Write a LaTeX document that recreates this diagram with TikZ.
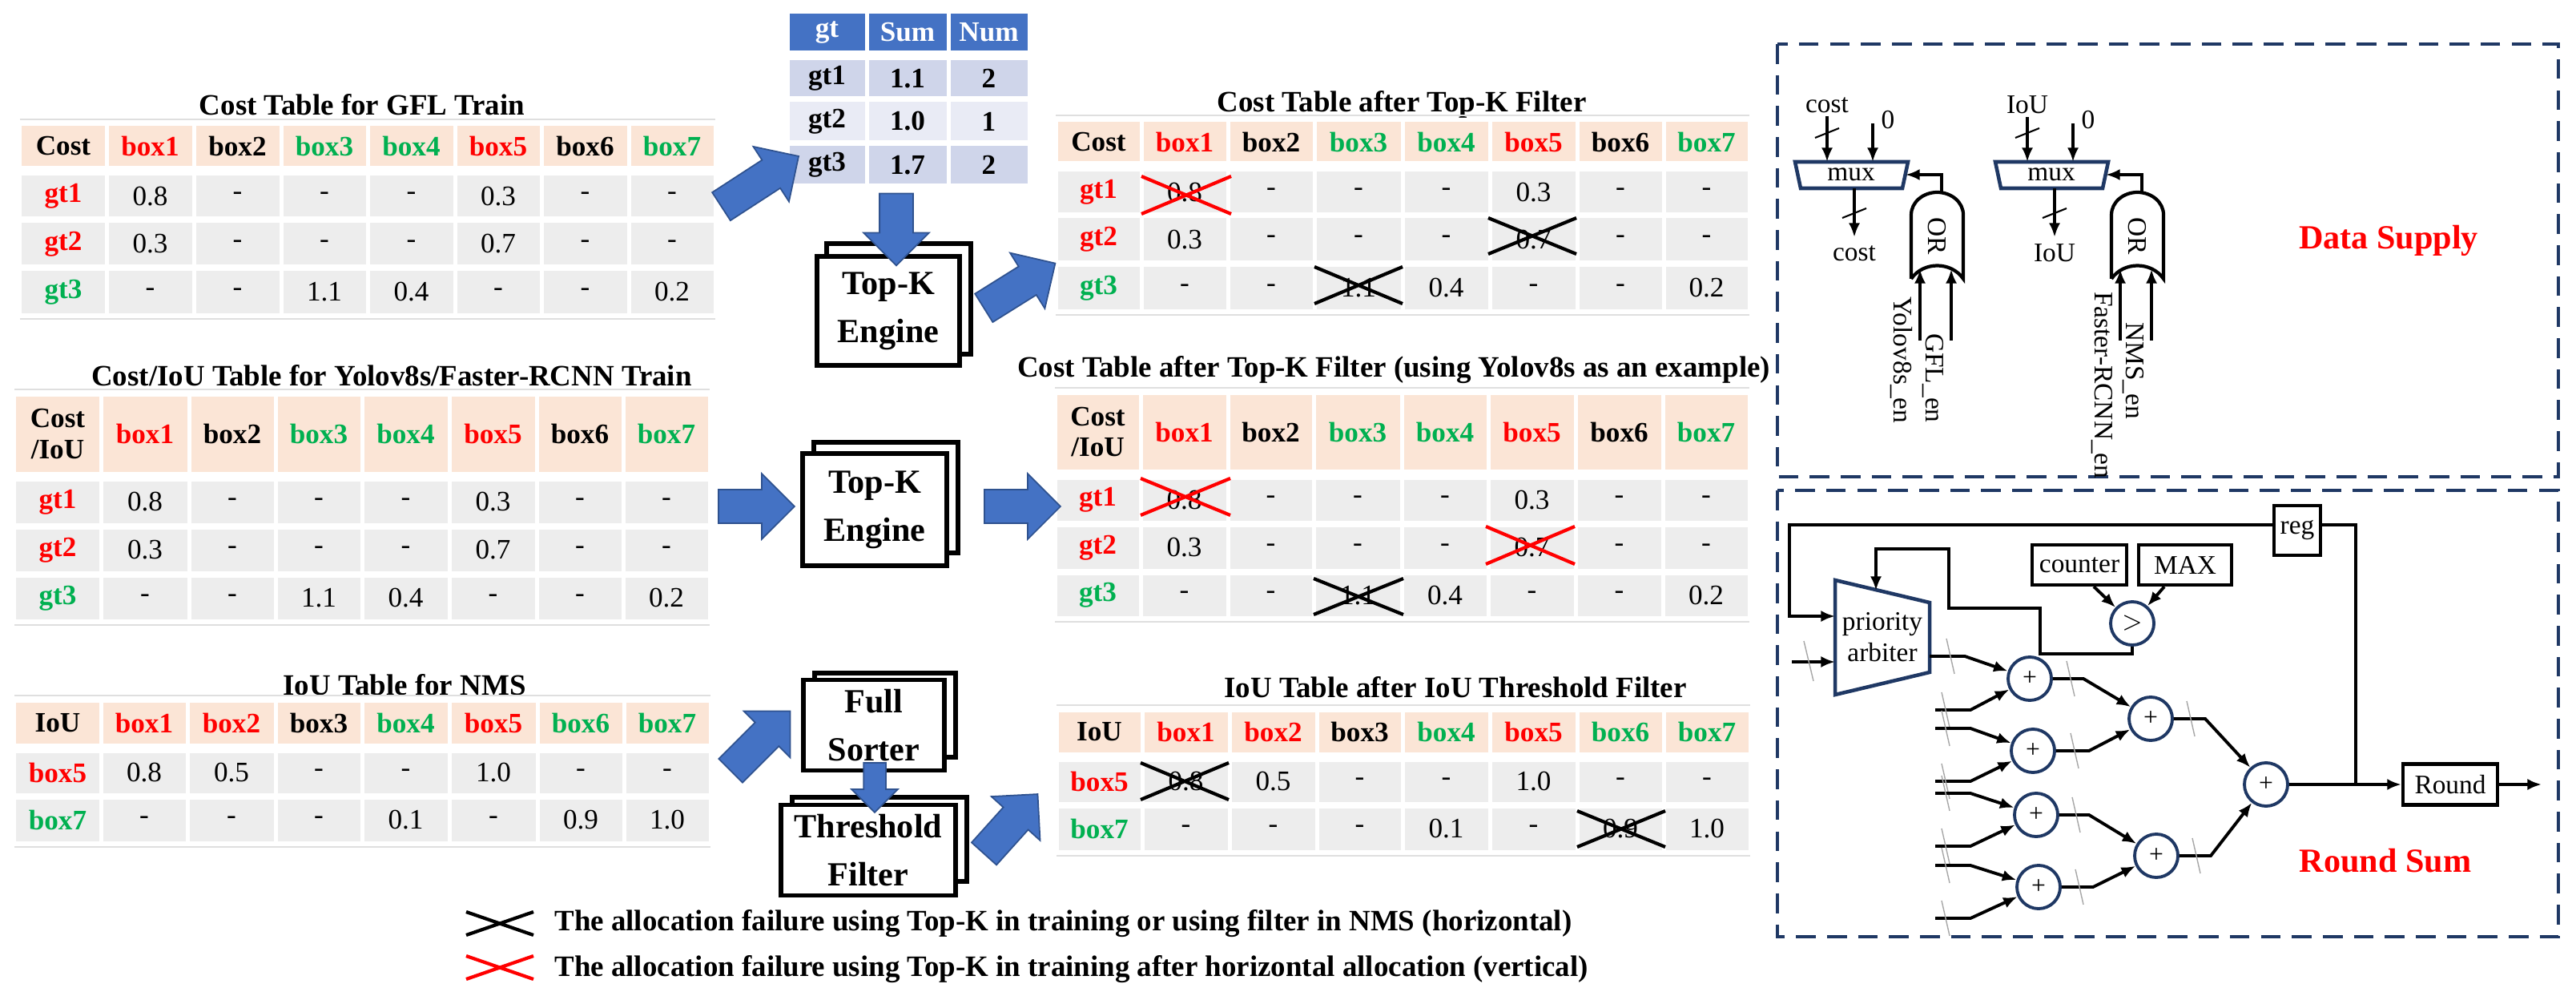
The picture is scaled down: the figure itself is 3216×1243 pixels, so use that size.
\documentclass[tikz,border=0pt]{standalone}
\usepackage{fontspec}
\setmainfont{Liberation Serif}
\usetikzlibrary{shapes.arrows,arrows.meta}
\definecolor{myred}{HTML}{FF0000}
\definecolor{mygreen}{HTML}{00B050}
\definecolor{peach}{HTML}{FBE5D6}
\definecolor{cellg}{HTML}{EDEDED}
\definecolor{blueA}{HTML}{4472C4}
\definecolor{blueD}{HTML}{2F528F}
\definecolor{lb1}{HTML}{CFD5EA}
\definecolor{lb2}{HTML}{E9EBF5}
\definecolor{navy}{HTML}{1F3864}
\newcommand\csl{/}
\newcommand\hrow[6]{%
\foreach \t/\s [count=\i] in {#6}{%
 \pgfmathsetmacro\xa{#2[\i-1]}\pgfmathsetmacro\xb{#2[\i]}%
 \pgfmathsetmacro\cw{(\xb-\xa-5)*0.01}\pgfmathsetmacro\ch{(#4-#3-5)*0.01}%
 \node[cellbase,fill=#5,minimum width=\cw cm,minimum height=\ch cm,\s] (#1-\i) at ({(\xa+\xb)/2},{(#3+#4)/2}) {\t};}}
\begin{document}
\begin{tikzpicture}[x=0.01cm,y=-0.01cm,
 cellbase/.style={inner sep=0,align=center,font=\fontsize{10}{11}\selectfont},
 nv/.style={},
 hd/.style={font=\fontsize{10}{11}\selectfont\bfseries},
 hr/.style={hd,text=myred},
 hg/.style={hd,text=mygreen},
 hw/.style={hd,text=white},
 title/.style={font=\fontsize{10.5}{12}\selectfont\bfseries},
 xk/.style={line width=1.2pt,black},
 xr/.style={line width=1.2pt,myred},
 barrow/.style={single arrow,fill=blueA,draw=blueD,line width=0.5pt,inner sep=0.2cm,single arrow head extend=0.2cm,minimum height=#1},
 eng/.style={draw,line width=1.6pt,fill=white,align=center,font=\fontsize{12}{17}\selectfont\bfseries},
 wire/.style={line width=1.1pt},
 arr/.style={wire,-{Latex[length=5pt,width=4pt]}},
 sl/.style={line width=0.4pt,gray!70},
 sln/.style={line width=0.6pt},
 blk/.style={draw,line width=1.2pt,font=\fontsize{9.5}{11}\selectfont},
 add/.style={circle,draw=navy,line width=1.1pt,minimum size=0.54cm,inner sep=0,font=\fontsize{9}{10}\selectfont},
 dbox/.style={navy,dash pattern=on 7pt off 4pt,line width=1.2pt},
 lbl/.style={font=\fontsize{9.5}{11}\selectfont,inner sep=1pt}
]
\useasboundingbox (0,0) rectangle (3216,1243);
% ---------- Table GFL ----------
\def\XA{{25,133,242,351,459,568,676,785,893}}
\node[title] (tA) at (452,131) {Cost Table for GFL Train};
\hrow{A0}{\XA}{155}{210}{peach}{Cost/hd,box1/hr,box2/hd,box3/hg,box4/hg,box5/hr,box6/hd,box7/hg}
\hrow{A1}{\XA}{217}{273}{cellg}{gt1/hr,0.8/nv,-/nv,-/nv,-/nv,0.3/nv,-/nv,-/nv}
\hrow{A2}{\XA}{276}{333}{cellg}{gt2/hr,0.3/nv,-/nv,-/nv,-/nv,0.7/nv,-/nv,-/nv}
\hrow{A3}{\XA}{336}{393}{cellg}{gt3/hg,-/nv,-/nv,1.1/nv,0.4/nv,-/nv,-/nv,0.2/nv}
\draw[gray!25] (25,149)--(893,149) (25,398)--(893,398);
% ---------- Table Yolo ----------
\def\XB{{18,126,236,344,452,561,670,778,886}}
\node[title] (tB) at (489,469) {Cost/IoU Table for Yolov8s/Faster-RCNN Train};
\hrow{B0}{\XB}{492}{591}{peach}{Cost\\\csl IoU/hd,box1/hr,box2/hd,box3/hg,box4/hg,box5/hr,box6/hd,box7/hg}
\hrow{B1}{\XB}{598}{655}{cellg}{gt1/hr,0.8/nv,-/nv,-/nv,-/nv,0.3/nv,-/nv,-/nv}
\hrow{B2}{\XB}{658}{715}{cellg}{gt2/hr,0.3/nv,-/nv,-/nv,-/nv,0.7/nv,-/nv,-/nv}
\hrow{B3}{\XB}{718}{775}{cellg}{gt3/hg,-/nv,-/nv,1.1/nv,0.4/nv,-/nv,-/nv,0.2/nv}
\draw[gray!25] (18,486)--(886,486) (18,780)--(886,780);
% ---------- Table NMS ----------
\def\XC{{18,126,234,344,452,561,671,779,887}}
\node[title] (tC) at (505,855) {IoU Table for NMS};
\hrow{C0}{\XC}{874}{930}{peach}{IoU/hd,box1/hr,box2/hr,box3/hd,box4/hg,box5/hr,box6/hg,box7/hg}
\hrow{C1}{\XC}{937}{992}{cellg}{box5/hr,0.8/nv,0.5/nv,-/nv,-/nv,1.0/nv,-/nv,-/nv}
\hrow{C2}{\XC}{995}{1052}{cellg}{box7/hg,-/nv,-/nv,-/nv,0.1/nv,-/nv,0.9/nv,1.0/nv}
\draw[gray!25] (18,868)--(887,868) (18,1057)--(887,1057);
% ---------- Sum table ----------
\def\XS{{983,1082,1184,1285}}
\hrow{S0}{\XS}{15}{66}{blueA}{gt/hw,Sum/hw,Num/hw}
\hrow{S1}{\XS}{73}{123}{lb1}{gt1/hd,1.1/hd,2/hd}
\hrow{S2}{\XS}{125}{178}{lb2}{gt2/hd,1.0/hd,1/hd}
\hrow{S3}{\XS}{180}{232}{lb1}{gt3/hd,1.7/hd,2/hd}
% ---------- After tables ----------
\def\XD{{1318,1425,1533,1641,1751,1860,1969,2077,2184}}
\node[title] (tD) at (1750,130) {Cost Table after Top-K Filter};
\hrow{D0}{\XD}{150}{204}{peach}{Cost/hd,box1/hr,box2/hd,box3/hg,box4/hg,box5/hr,box6/hd,box7/hg}
\hrow{D1}{\XD}{212}{268}{cellg}{gt1/hr,0.8/nv,-/nv,-/nv,-/nv,0.3/nv,-/nv,-/nv}
\hrow{D2}{\XD}{270}{328}{cellg}{gt2/hr,0.3/nv,-/nv,-/nv,-/nv,0.7/nv,-/nv,-/nv}
\hrow{D3}{\XD}{331}{388}{cellg}{gt3/hg,-/nv,-/nv,1.1/nv,0.4/nv,-/nv,-/nv,0.2/nv}
\draw[gray!25] (1318,144)--(2184,144) (1318,393)--(2184,393);
\draw[xr] (1425,220)--(1537,267) (1425,267)--(1537,220);
\draw[xk] (1858,272)--(1968,317) (1858,317)--(1968,272);
\draw[xk] (1641,333)--(1751,379) (1641,379)--(1751,333);
\def\XE{{1317,1424,1533,1640,1750,1858,1967,2076,2184}}
\node[title] (tE) at (1740,462) {Cost Table after Top-K Filter (using Yolov8s as an example)};
\hrow{E0}{\XE}{490}{588}{peach}{Cost\\\csl IoU/hd,box1/hr,box2/hd,box3/hg,box4/hg,box5/hr,box6/hd,box7/hg}
\hrow{E1}{\XE}{596}{652}{cellg}{gt1/hr,0.8/nv,-/nv,-/nv,-/nv,0.3/nv,-/nv,-/nv}
\hrow{E2}{\XE}{655}{712}{cellg}{gt2/hr,0.3/nv,-/nv,-/nv,-/nv,0.7/nv,-/nv,-/nv}
\hrow{E3}{\XE}{715}{771}{cellg}{gt3/hg,-/nv,-/nv,1.1/nv,0.4/nv,-/nv,-/nv,0.2/nv}
\draw[gray!25] (1317,484)--(2184,484) (1317,776)--(2184,776);
\draw[xr] (1424,597)--(1536,643) (1424,643)--(1536,597);
\draw[xr] (1855,657)--(1966,704) (1855,704)--(1966,657);
\draw[xk] (1640,722)--(1752,767) (1640,767)--(1752,722);
\def\XF{{1319,1426,1535,1644,1751,1860,1969,2077,2185}}
\node[title] (tF) at (1817,858) {IoU Table after IoU Threshold Filter};
\hrow{F0}{\XF}{886}{941}{peach}{IoU/hd,box1/hr,box2/hr,box3/hd,box4/hg,box5/hr,box6/hg,box7/hg}
\hrow{F1}{\XF}{948}{1003}{cellg}{box5/hr,0.8/nv,0.5/nv,-/nv,-/nv,1.0/nv,-/nv,-/nv}
\hrow{F2}{\XF}{1006}{1063}{cellg}{box7/hg,-/nv,-/nv,-/nv,0.1/nv,-/nv,0.9/nv,1.0/nv}
\draw[gray!25] (1319,880)--(2185,880) (1319,1068)--(2185,1068);
\draw[xk] (1424,952)--(1534,998) (1424,998)--(1534,952);
\draw[xk] (1969,1012)--(2079,1057) (1969,1057)--(2079,1012);
% ---------- Engines ----------
\draw[line width=1.6pt,fill=white] (1032,304) rectangle (1212,442);
\node[eng,minimum width=1.78cm,minimum height=1.36cm] (topk1) at (1109,388) {Top-K\\Engine};
\draw[line width=1.6pt,fill=white] (1016,552) rectangle (1196,690);
\node[eng,minimum width=1.80cm,minimum height=1.40cm] (topk2) at (1092,636) {Top-K\\Engine};
\draw[line width=1.6pt,fill=white] (1017,840) rectangle (1193,945);
\node[eng,minimum width=1.76cm,minimum height=1.01cm] (fs) at (1091,905) {Full\\Sorter};
\draw[line width=1.6pt,fill=white] (989,995) rectangle (1207,1100);
\node[eng,minimum width=2.18cm,minimum height=1.04cm] (th) at (1084,1061) {Threshold\\Filter};
% ---------- Blue arrows ----------
\node[barrow=1.15cm,rotate=33] (a1) at (940,232) {};
\node[barrow=0.9cm,rotate=-90] (a2) at (1119,276) {};
\node[barrow=1.05cm,rotate=32] (a3) at (1264,362) {};
\node[barrow=0.95cm,rotate=0] (a4) at (934,632) {};
\node[barrow=0.95cm,rotate=0] (a5) at (1266,632) {};
\node[barrow=1.05cm,rotate=45] (a6) at (942,932) {};
\node[barrow=0.62cm,rotate=-90,inner sep=0.13cm,single arrow head extend=0.15cm] (a7) at (1092,976) {};
\node[barrow=1.0cm,rotate=48] (a8) at (1255,1036) {};
% ---------- Legend ----------
\draw[xk] (582,1138)--(666,1167) (582,1167)--(666,1138);
\node[title,anchor=west] (lg1) at (680,1153) {The allocation failure using Top-K in training or using filter in NMS (horizontal)};
\draw[xr] (582,1193)--(666,1222) (582,1222)--(666,1193);
\node[title,anchor=west] (lg2) at (680,1210) {The allocation failure using Top-K in training after horizontal allocation (vertical)};
% ---------- Data Supply ----------
\draw[dbox] (2219,55) rectangle (3194,595);
\node[font=\fontsize{12}{14}\selectfont\bfseries,text=myred] (ds) at (2982,300) {Data Supply};
\foreach \o/\ina/\outa/\la/\lb/\lby/\lbby [count=\k] in
  {0/cost/cost/{Yolov8s\_en}/{GFL\_en}/366/412,
   250/IoU/IoU/{Faster-RCNN\_en}/{NMS\_en}/360/398}{
  \begin{scope}[xshift=\o*0.01cm]
  \draw[navy,line width=1.3pt,fill=white] (2241,202)--(2382,202)--(2375,235)--(2248,235)--cycle;
  \node[lbl] (mux\k) at (2311,218) {mux};
  \node[lbl] (in\k) at (2281,131) {\ina};
  \node[lbl] (z\k) at (2357,150) {0};
  \draw[arr] (in\k.south) -- (2281,202);
  \draw[arr] (2338,154) -- (2338,202);
  \draw[sln] (2266,172)--(2296,160);
  \draw[arr] (2315,235) -- (2315,296);
  \draw[sln] (2300,272)--(2330,260);
  \node[lbl] (out\k) at (2315,316) {\outa};
  \draw[line width=1.2pt,fill=white] (2386,348)--(2386,268) arc[start angle=180,end angle=360,x radius=32.5,y radius=28]--(2451,348) .. controls (2436,326) and (2401,326) .. (2386,348);
  \node[lbl,rotate=-90] (or\k) at (2418,295) {OR};
  \draw[arr] (2424,241) |- (2379,218);
  \draw[arr] (2397,425) -- (2397,336);
  \draw[arr] (2436,425) -- (2436,336);
  \node[lbl,rotate=-90,anchor=north west] at (2392,\lby) {\la};
  \node[lbl,rotate=-90,anchor=north west] at (2431,\lbby) {\lb};
  \end{scope}}
% ---------- Round Sum ----------
\draw[dbox] (2219,612) rectangle (3194,1169);
\node[font=\fontsize{12}{14}\selectfont\bfseries,text=myred] (rs) at (2978,1074) {Round Sum};
\draw[navy,line width=1.3pt,fill=white] (2291,724)--(2409,752)--(2409,839)--(2291,867)--cycle;
\node[lbl,align=center] (arb) at (2350,795) {priority\\arbiter};
\node[blk,minimum width=0.58cm,minimum height=0.62cm,inner sep=0] (reg) at (2868,662) {reg};
\node[blk,minimum width=1.18cm,minimum height=0.5cm,inner sep=0] (cnt) at (2596,705) {counter};
\node[blk,minimum width=1.16cm,minimum height=0.5cm,inner sep=0] (max) at (2728,705) {MAX};
\node[add] (cmp) at (2662,778) {$>$};
\node[add] (A1) at (2534,847) {+};
\node[add] (A2) at (2538,937) {+};
\node[add] (A3) at (2542,1017) {+};
\node[add] (A4) at (2545,1107) {+};
\node[add] (B1) at (2685,897) {+};
\node[add] (B2) at (2692,1068) {+};
\node[add] (C) at (2829,979) {+};
\node[blk,minimum width=1.18cm,minimum height=0.51cm,inner sep=0] (rnd) at (3059,979) {Round};
\coordinate (rout) at (3173,979);
\coordinate (jn) at (2941,979);
\draw[arr] (C) -- (rnd);
\draw[arr] (rnd) -- (rout);
\draw[wire] (jn) |- (reg.east |- 0,655);
\draw[arr] (reg.west |- 0,655) -- (2234,655) |- (2291,769);
\draw[arr] (2237,826) -- (2291,826);
\draw[sl] (2252,800)--(2264,850);
\draw[arr] (cnt.south -| 2614,0) -- (cmp);
\draw[arr] (max.south -| 2702,0) -- (cmp);
\draw[arr] (cmp.south) |- (2547,816) |- (2433,759) |- (2342,685) -- (2342,737);
% adder tree inputs
\draw[arr] (2409,819) -- (2453,819) -- (A1);
\foreach \y/\t in {886/A1,909/A2,975/A2,990/A3,1056/A3,1080/A4,1146/A4}{
  \draw[arr] (2416,\y) -- (2460,\y) -- (\t);
  \draw[sl] (2424,\y-22)--(2434,\y+22);}
\draw[sl] (2430,797)--(2440,841);
\draw[arr] (A1) -- (2601,847) -- (B1);
\draw[arr] (A2) -- (2608,937) -- (B1);
\draw[arr] (A3) -- (2608,1017) -- (B2);
\draw[arr] (A4) -- (2613,1107) -- (B2);
\draw[arr] (B1) -- (2753,897) -- (C);
\draw[arr] (B2) -- (2760,1068) -- (C);
\foreach \x/\y in {2585/847,2590/937,2592/1017,2596/1107,2735/897,2742/1068}{
  \draw[sl] (\x-5,\y-22)--(\x+5,\y+22);}
\end{tikzpicture}
\end{document}
